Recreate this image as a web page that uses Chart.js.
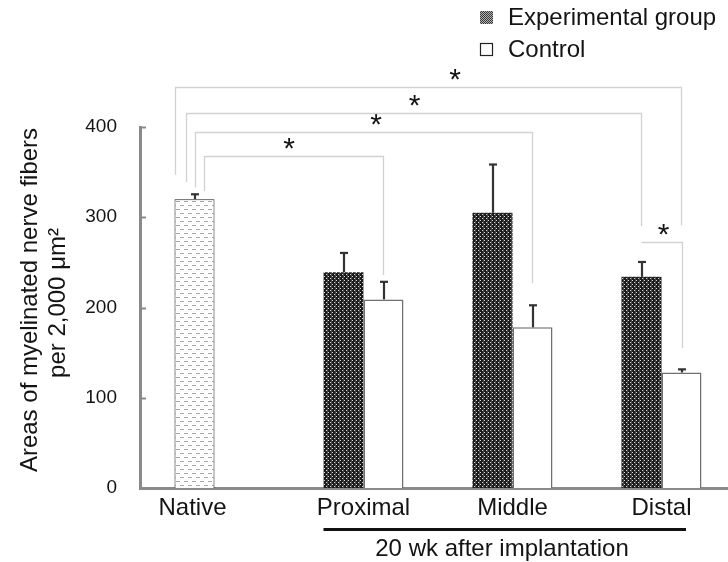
<!DOCTYPE html>
<html>
<head>
<meta charset="utf-8">
<script src="https://cdn.jsdelivr.net/npm/chart.js@4.4.1/dist/chart.umd.min.js"></script>
<style>
html, body { margin: 0; padding: 0; overflow: hidden; background: #fff; width: 728px; height: 562px; }
canvas { display: block; }
</style>
</head>
<body>
<canvas id="c" width="740" height="562"></canvas>
<script>
// ---- data ----
const categories = ['Native', 'Proximal', 'Middle', 'Distal'];
const experimentalMeans = [320, 239, 305, 234];   // index 0 = native nerve
const experimentalErrors = [6, 22, 54, 17];
const controlMeans = [null, 209, 178, 128];
const controlErrors = [null, 20, 25, 4];
const yTicks = [0, 100, 200, 300, 400];
const legendLabels = ['Experimental group', 'Control'];
const yTitleLines = ['Areas of myelinated nerve fibers', 'per 2,000 \u03bcm\u00b2'];
const groupLabel = '20 wk after implantation';

// significance brackets: from native bar to [dataset, index]
const brackets = [
  { to: [1, 1], level: 368, leftLeg: 29.5, leftEnd: 329, rightEnd: 236, starDx: -5 },
  { to: [1, 2], level: 394.5, leftLeg: 20.5, leftEnd: 333, rightEnd: 227, starDx: 12 },
  { to: [0, 3], level: 415.5, leftLeg: 11.5, leftEnd: 339, rightEnd: 290, starDx: 0.5 },
  { to: [1, 3], level: 444, leftLeg: 0.5, leftEnd: 347, rightEnd: 291, starDx: 26.5 }
];
const pairBracket = { from: [0, 3], to: [1, 3], level: 272.6, rightEnd: 155, starDx: 1.5 };

const FONT = '"Liberation Sans", Arial, sans-serif';
const TEXT = '#141414';

function makePattern(w, h, draw) {
  const c = document.createElement('canvas');
  c.width = w; c.height = h;
  const g = c.getContext('2d');
  draw(g);
  return g.createPattern(c, 'repeat');
}
const expPattern = makePattern(4, 4, g => {
  g.fillStyle = '#1c1c1c'; g.fillRect(0, 0, 4, 4);
  g.fillStyle = '#4a4a4a'; g.fillRect(3, 0, 1, 4);
  g.fillStyle = '#d8d8d8'; g.fillRect(0, 0, 1, 1); g.fillRect(2, 2, 1, 1);
});
const legendPattern = makePattern(2, 2, g => {
  g.fillStyle = '#b0b0b0'; g.fillRect(0, 0, 2, 2);
  g.fillStyle = '#3a3a3a'; g.fillRect(0, 0, 1, 1); g.fillRect(1, 1, 1, 1);
});
const nativePattern = makePattern(8, 8, g => {
  g.fillStyle = '#ffffff'; g.fillRect(0, 0, 8, 8);
  g.fillStyle = '#a8a8a8';
  g.fillRect(0, 1, 4, 1);
  g.fillRect(4, 5, 4, 1);
});

const overlay = {
  id: 'overlay',
  afterDatasetsDraw(chart) {
    const ctx = chart.ctx;
    const y = chart.scales.y;
    const xs = chart.scales.x;
    const m0 = chart.getDatasetMeta(0).data;
    const m1 = chart.getDatasetMeta(1).data;
    const metas = [m0, m1];

    // error bars
    const errs = [experimentalErrors, controlErrors];
    const means = [experimentalMeans, controlMeans];
    ctx.save();
    ctx.strokeStyle = '#333';
    ctx.lineWidth = 2.2;
    for (let d = 0; d < 2; d++) {
      for (let i = 0; i < categories.length; i++) {
        if (means[d][i] == null) continue;
        const bx = Math.round(metas[d][i].x);
        const y0 = y.getPixelForValue(means[d][i]);
        const y1 = y.getPixelForValue(means[d][i] + errs[d][i]);
        ctx.beginPath();
        ctx.moveTo(bx, y0); ctx.lineTo(bx, y1);
        ctx.stroke();
        ctx.beginPath();
        ctx.moveTo(bx - 4, y1 + 0.5); ctx.lineTo(bx + 4, y1 + 0.5);
        ctx.stroke();
      }
    }
    ctx.restore();

    // y axis inner ticks
    ctx.save();
    ctx.strokeStyle = '#8a8a8a';
    ctx.lineWidth = 2;
    yTicks.slice(1).forEach(v => {
      const py = Math.round(y.getPixelForValue(v)) + 0.5;
      ctx.beginPath(); ctx.moveTo(141, py); ctx.lineTo(146, py); ctx.stroke();
    });
    ctx.restore();

    // brackets
    const nat = m0[0];
    const natLeft = nat.x - nat.width / 2;
    ctx.save();
    ctx.strokeStyle = '#d2d2d2';
    ctx.lineWidth = 1.3;
    ctx.fillStyle = TEXT;
    ctx.font = '30px ' + FONT;
    ctx.textAlign = 'center';
    ctx.textBaseline = 'alphabetic';
    const star = (cx, ly) => ctx.fillText('*', cx, ly + 1);
    brackets.forEach(b => {
      const lx = Math.round(natLeft + b.leftLeg) + 0.5;
      const rx = Math.round(metas[b.to[0]][b.to[1]].x) - 0.5;
      const ly = Math.round(y.getPixelForValue(b.level)) + 0.5;
      ctx.beginPath();
      ctx.moveTo(lx, y.getPixelForValue(b.leftEnd));
      ctx.lineTo(lx, ly);
      ctx.lineTo(rx, ly);
      ctx.lineTo(rx, y.getPixelForValue(b.rightEnd));
      ctx.stroke();
      star((lx + rx) / 2 + b.starDx, ly);
    });
    {
      const b = pairBracket;
      const lx = Math.round(metas[b.from[0]][b.from[1]].x) - 0.5;
      const rx = Math.round(metas[b.to[0]][b.to[1]].x) + 0.5;
      const ly = Math.round(y.getPixelForValue(b.level)) + 0.5;
      ctx.beginPath();
      ctx.moveTo(lx, ly);
      ctx.lineTo(rx, ly);
      ctx.lineTo(rx, y.getPixelForValue(b.rightEnd));
      ctx.stroke();
      star((lx + rx) / 2 + b.starDx, ly);
    }
    ctx.restore();

    // category labels
    ctx.save();
    ctx.fillStyle = TEXT;
    ctx.font = '24px ' + FONT;
    ctx.textAlign = 'center';
    ctx.textBaseline = 'middle';
    categories.forEach((c, i) => {
      const px = i === 0 ? nat.x - 2 : xs.getPixelForValue(i);
      ctx.fillText(c, px, 508);
    });
    // group underline + label
    const gx0 = m0[1].x - m0[1].width / 2;
    const gx1 = m1[3].x + 4.5;
    ctx.fillStyle = '#111';
    ctx.fillRect(gx0, 528, gx1 - gx0, 3);
    ctx.fillStyle = TEXT;
    ctx.fillText(groupLabel, 502, 549);

    // y title
    ctx.save();
    ctx.translate(30, 300);
    ctx.rotate(-Math.PI / 2);
    ctx.fillText(yTitleLines[0], 0, 0);
    ctx.restore();
    ctx.save();
    ctx.translate(58, 303);
    ctx.rotate(-Math.PI / 2);
    ctx.fillText(yTitleLines[1], 0, 0);
    ctx.restore();

    // legend
    ctx.textAlign = 'left';
    ctx.fillStyle = legendPattern;
    ctx.fillRect(480, 11, 13, 13);
    ctx.fillStyle = '#fff';
    ctx.fillRect(480, 43, 13, 13);
    ctx.strokeStyle = '#222';
    ctx.lineWidth = 1.2;
    ctx.strokeRect(480.5, 43.5, 12, 12);
    ctx.fillStyle = TEXT;
    ctx.fillText(legendLabels[0], 508, 18);
    ctx.fillText(legendLabels[1], 508, 50);
    ctx.restore();
  }
};

new Chart(document.getElementById('c'), {
  type: 'bar',
  data: {
    labels: categories,
    datasets: [
      {
        label: legendLabels[0],
        data: experimentalMeans,
        backgroundColor: [nativePattern, expPattern, expPattern, expPattern],
        borderColor: ['#1a1a1a', '#2a2a2a', '#2a2a2a', '#2a2a2a'],
        borderWidth: [1, 0, 0, 0],
        categoryPercentage: 80 / 149,
        barPercentage: 1
      },
      {
        label: legendLabels[1],
        data: controlMeans,
        backgroundColor: '#ffffff',
        borderColor: '#707070',
        borderWidth: 1.5,
        categoryPercentage: 80 / 149,
        barPercentage: 1
      }
    ]
  },
  options: {
    responsive: false,
    animation: false,
    devicePixelRatio: 1,
    layout: { padding: { top: 127, left: 0, right: 4, bottom: 74 } },
    plugins: { legend: { display: false }, tooltip: { enabled: false } },
    scales: {
      x: {
        type: 'category',
        offset: true,
        grid: { display: false, drawTicks: false },
        border: { display: true, color: '#8a8a8a', width: 3 },
        ticks: { display: false },
        afterFit(s) { s.height = 0; }
      },
      y: {
        min: 0, max: 400,
        afterBuildTicks(s) { s.ticks = yTicks.map(v => ({ value: v })); },
        ticks: { padding: 23, color: TEXT, font: { family: FONT, size: 19 } },
        grid: { display: false, drawTicks: false },
        border: { display: true, color: '#8a8a8a', width: 3 },
        afterFit(s) { s.width = 140; }
      }
    }
  },
  plugins: [overlay]
});
</script>
</body>
</html>
